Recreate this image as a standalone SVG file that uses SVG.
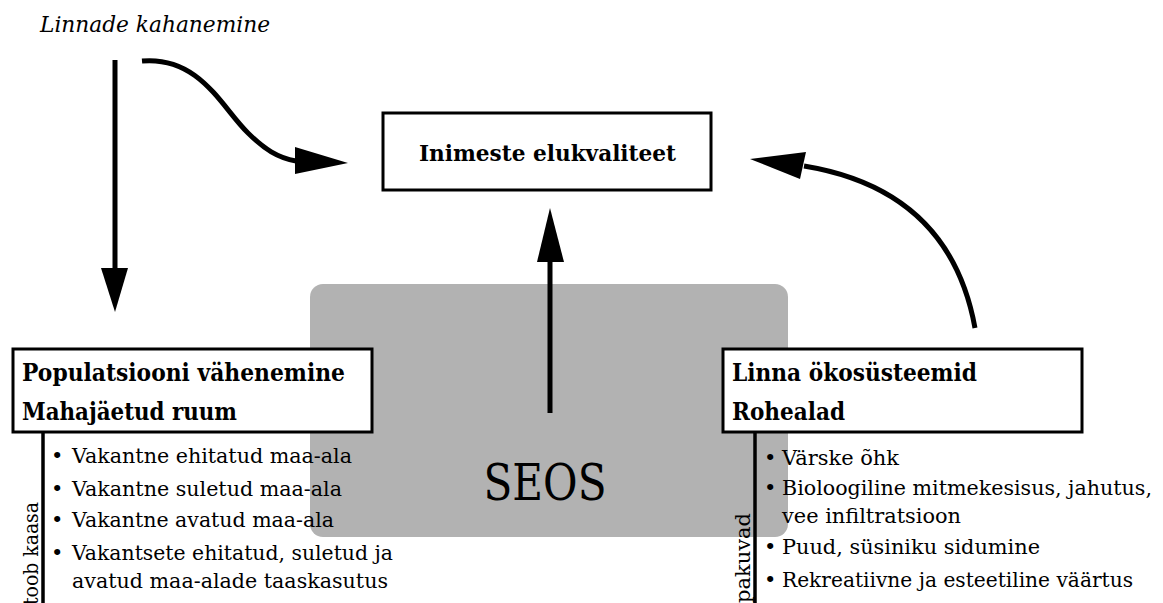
<svg xmlns="http://www.w3.org/2000/svg" width="1163" height="603" viewBox="0 0 1163 603">
<style>
.t{font-family:"DejaVu Serif","Liberation Serif",serif;fill:#000}
.b{font-weight:bold}
.h{font-size:24px;font-weight:bold}
.box{fill:#fff;stroke:#000;stroke-width:3}
.ln{fill:none;stroke:#000;stroke-width:5}
.bl{font-size:21px}
</style>
<rect x="0" y="0" width="1163" height="603" fill="#fff"/>
<g id="seos">
<rect x="310" y="284" width="478" height="253" rx="13" fill="#b2b2b2"/>
<text class="t" x="545" y="500" font-size="51" text-anchor="middle" textLength="123" lengthAdjust="spacingAndGlyphs">SEOS</text>
</g>
<g id="title">
<text class="t" x="40" y="32" font-size="22" font-style="italic" textLength="230" lengthAdjust="spacingAndGlyphs">Linnade kahanemine</text>
</g>
<g id="connectors">
<path class="ln" d="M115,60 L115,268"/>
<path d="M101,268 L128,268 L115,312 Z" fill="#000"/>
<path class="ln" d="M142,61 C200,56 222,108 248,133 C264,149 278,158 296,161"/>
<path d="M295,147 L348,163 L295,174 Z" fill="#000"/>
<path class="ln" d="M550,413 L550,260"/>
<path d="M537,262 L564,262 L550,208 Z" fill="#000"/>
<path class="ln" d="M975,328 Q950,190 804,166"/>
<path d="M806,152 L750,159 L800,179 Z" fill="#000"/>
<path d="M43,432 L43,603" stroke="#000" stroke-width="3.5"/>
<path d="M755,432 L755,603" stroke="#000" stroke-width="3.5"/>
</g>
<g id="quality">
<rect class="box" x="383" y="113" width="328" height="77"/>
<text class="t b" x="547.5" y="161" font-size="23" text-anchor="middle" textLength="257" lengthAdjust="spacingAndGlyphs">Inimeste elukvaliteet</text>
</g>
<g id="population">
<rect class="box" x="13" y="349" width="359" height="83"/>
<text class="t h" x="22" y="381" textLength="323" lengthAdjust="spacingAndGlyphs">Populatsiooni vähenemine</text>
<text class="t h" x="22" y="420" textLength="215" lengthAdjust="spacingAndGlyphs">Mahajäetud ruum</text>
<text class="t" font-size="20" transform="translate(38,605) rotate(-90)" textLength="103" lengthAdjust="spacingAndGlyphs">toob kaasa</text>
<text class="t bl" x="51" y="463">•</text>
<text class="t bl" x="72" y="463" textLength="280" lengthAdjust="spacingAndGlyphs">Vakantne ehitatud maa-ala</text>
<text class="t bl" x="51" y="496">•</text>
<text class="t bl" x="72" y="496" textLength="270" lengthAdjust="spacingAndGlyphs">Vakantne suletud maa-ala</text>
<text class="t bl" x="51" y="527">•</text>
<text class="t bl" x="72" y="527" textLength="262" lengthAdjust="spacingAndGlyphs">Vakantne avatud maa-ala</text>
<text class="t bl" x="51" y="560">•</text>
<text class="t bl" x="72" y="560" textLength="321" lengthAdjust="spacingAndGlyphs">Vakantsete ehitatud, suletud ja</text>
<text class="t bl" x="72" y="588" textLength="316" lengthAdjust="spacingAndGlyphs">avatud maa-alade taaskasutus</text>
</g>
<g id="ecosystems">
<rect class="box" x="723" y="349" width="359" height="83"/>
<text class="t h" x="732" y="381" textLength="245" lengthAdjust="spacingAndGlyphs">Linna ökosüsteemid</text>
<text class="t h" x="732" y="420" textLength="113" lengthAdjust="spacingAndGlyphs">Rohealad</text>
<text class="t" font-size="21" transform="translate(750,603) rotate(-90)" textLength="90" lengthAdjust="spacingAndGlyphs">pakuvad</text>
<text class="t bl" x="764" y="465">•</text>
<text class="t bl" x="782" y="465" textLength="117" lengthAdjust="spacingAndGlyphs">Värske õhk</text>
<text class="t bl" x="764" y="495">•</text>
<text class="t bl" x="782" y="495" textLength="370" lengthAdjust="spacingAndGlyphs">Bioloogiline mitmekesisus, jahutus,</text>
<text class="t bl" x="782" y="523" textLength="179" lengthAdjust="spacingAndGlyphs">vee infiltratsioon</text>
<text class="t bl" x="764" y="554">•</text>
<text class="t bl" x="782" y="554" textLength="258" lengthAdjust="spacingAndGlyphs">Puud, süsiniku sidumine</text>
<text class="t bl" x="764" y="587">•</text>
<text class="t bl" x="782" y="587" textLength="351" lengthAdjust="spacingAndGlyphs">Rekreatiivne ja esteetiline väärtus</text>
</g>
</svg>
